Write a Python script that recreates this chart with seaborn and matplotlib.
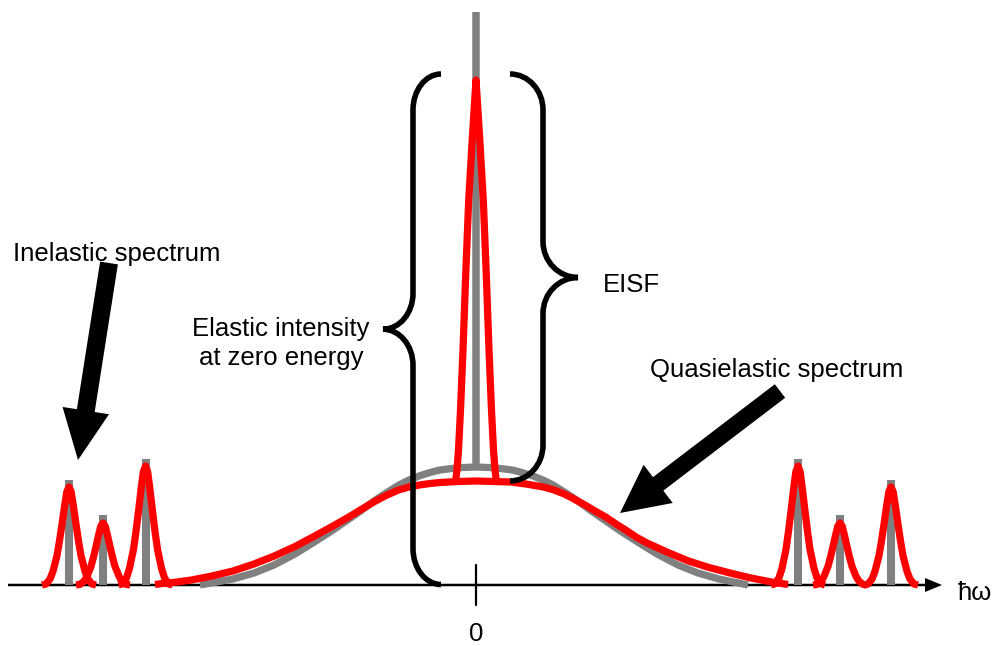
import numpy as np
import matplotlib
matplotlib.use('Agg')
import matplotlib.pyplot as plt
from matplotlib.path import Path
from matplotlib.patches import PathPatch
import seaborn as sns

sns.set_theme(style="white")
plt.rcParams['font.family'] = ['Liberation Sans', 'DejaVu Sans']
plt.rcParams['text.color'] = 'black'

# --- données lues sur le schéma (énergie en unités arbitraires, 0 = pic élastique) ---
# raies inélastiques (bâtons gris) et leur version élargie (rouge)
inel_pos = [-407, -373, -330.5, 322, 364, 415]
inel_stick_h = [105, 70, 126, 126, 70, 105]
inel_red_h = [98, 62, 119, 119, 62, 98]
# profil normalisé d'une raie élargie
peak_dx = [-27, -23, -19, -16, -12, -9.5, -7, -4.5, -2.2, 0, 2.2, 4.5, 7, 9.5, 12, 16, 19, 23, 27]
peak_f = [0, 0.01, 0.06, 0.14, 0.3, 0.45, 0.62, 0.8, 0.95, 1,
          0.95, 0.8, 0.62, 0.45, 0.3, 0.14, 0.06, 0.01, 0]

# pic élastique (bâton gris central)
elastic_top = 573

# spectre quasiélastique idéal (gris)
gray_dx = [-276, -262, -243, -222, -202, -181, -160, -143, -127, -114, -102, -90, -77, -67, -57,
           -46, -36, -18, 0, 18, 36, 46, 57, 67, 77, 90, 102, 114, 127, 143, 160, 181, 202,
           222, 243, 260, 272]
gray_h = [0, 2.5, 6, 12, 20, 31, 44, 55, 66, 75, 84, 92, 100, 105, 109,
          112.5, 115, 117.3, 118, 117.3, 115, 112.5, 109, 105, 100, 92, 84, 75, 66, 55, 44, 31, 20,
          12, 6, 2.5, 0]

# spectre quasiélastique mesuré (rouge)
red_dx = [-321, -313.6, -299, -284.6, -264, -243, -222, -201.7, -181, -160.3, -143, -127.2,
          -114, -102.3, -90, -77.5, -67, -56.7, -46, -36, -18, 0,
          18, 34.4, 50, 67.5, 78, 88.3, 98, 109, 119, 129.7, 140, 150.4, 160, 171, 192, 212.5,
          233, 254, 275, 295.4, 312]
red_h = [0.5, 1.5, 3, 5, 9, 14, 21, 29, 38.5, 49.5, 59, 68,
         76, 83, 89.5, 95, 98, 100, 101.5, 102.5, 103.5, 104,
         103.5, 103, 101, 98, 95, 91, 86, 80, 74, 68, 61, 54.5, 48, 42, 32.5, 24,
         17.5, 12, 7, 3, 0.5]

# pic élastique résolu (rouge, étroit)
narrow_dx = [-20.5, -19, -17.5, -15.5, -13, -10.3, -7.3, -3.5, 0,
             3.5, 7.3, 10.3, 13, 15.5, 17.5, 19, 20.5]
narrow_h = [103, 115, 135, 175, 235, 310, 385, 450, 505,
            450, 385, 310, 235, 175, 135, 115, 103]

# accolades : intensité élastique totale et EISF
elastic_zero_h = 511
quasi_peak_h = 104

RED = '#FF0000'
GRAY = '#808080'
LW = 5.2


def draw_brace(ax, x_line, x_end, x_tip, h_low, h_high, ry_end=36, ry_tip=36, lw=4.0):
    k = 0.5523
    mid = (h_low + h_high) / 2
    rx_end = x_end - x_line
    rx_tip = x_tip - x_line
    verts = [
        (x_end, h_high),
        (x_end - k * rx_end, h_high), (x_line, h_high - ry_end + k * ry_end), (x_line, h_high - ry_end),
        (x_line, mid + ry_tip),
        (x_line, mid + ry_tip - k * ry_tip), (x_tip - k * rx_tip, mid), (x_tip, mid),
        (x_tip - k * rx_tip, mid), (x_line, mid - ry_tip + k * ry_tip), (x_line, mid - ry_tip),
        (x_line, h_low + ry_end),
        (x_line, h_low + ry_end - k * ry_end), (x_end - k * rx_end, h_low), (x_end, h_low),
    ]
    codes = [Path.MOVETO,
             Path.CURVE4, Path.CURVE4, Path.CURVE4,
             Path.LINETO,
             Path.CURVE4, Path.CURVE4, Path.CURVE4,
             Path.CURVE4, Path.CURVE4, Path.CURVE4,
             Path.LINETO,
             Path.CURVE4, Path.CURVE4, Path.CURVE4]
    patch = PathPatch(Path(verts, codes), facecolor='none', edgecolor='black',
                      lw=lw, capstyle='butt', zorder=5)
    ax.add_patch(patch)


fig = plt.figure(figsize=(9.96, 6.46), dpi=100)
ax = fig.add_axes([0, 0, 1, 1])
ax.set_xlim(-476, 520)
ax.set_ylim(-61, 585)
ax.set_axis_off()

# axe des énergies
ax.arrow(-468, 0, 934, 0, width=2.5, head_width=14, head_length=17,
         length_includes_head=True, color='black', lw=0, zorder=1)
ax.plot([0, 0], [20, -20], color='black', lw=1.6, zorder=1)

# bâtons gris
ax.vlines(inel_pos, 0, inel_stick_h, color=GRAY, lw=5.8, zorder=2)
ax.vlines([0], gray_h[gray_dx.index(0)], elastic_top, color=GRAY, lw=5.4, zorder=2)
sns.lineplot(x=gray_dx, y=gray_h, sort=False, estimator=None, color=GRAY,
             lw=LW, solid_capstyle='butt', solid_joinstyle='round', ax=ax, zorder=2)

# courbes rouges
for c, a in zip(inel_pos, inel_red_h):
    xs = [c + d for d in peak_dx]
    ys = [a * f for f in peak_f]
    sns.lineplot(x=xs, y=ys, sort=False, estimator=None, color=RED, lw=LW,
                 solid_capstyle='butt', solid_joinstyle='round', ax=ax, zorder=3)
sns.lineplot(x=red_dx, y=red_h, sort=False, estimator=None, color=RED, lw=LW,
             solid_capstyle='butt', solid_joinstyle='round', ax=ax, zorder=3)
sns.lineplot(x=narrow_dx, y=narrow_h, sort=False, estimator=None, color=RED, lw=LW,
             solid_capstyle='butt', solid_joinstyle='round', ax=ax, zorder=3)

# accolades
draw_brace(ax, -63, -35, -93, 0.5, elastic_zero_h)
draw_brace(ax, 67, 34, 102, quasi_peak_h, elastic_zero_h)

# flèches
ax.arrow(-367, 322, -31, -197, width=18, head_width=47, head_length=50,
         length_includes_head=True, color='black', lw=0, zorder=5)
ax.arrow(304, 194, -160, -122, width=17, head_width=48, head_length=48,
         length_includes_head=True, color='black', lw=0, zorder=5)

# textes
fs = 18.5
ax.text(-359.5, 324, 'Inelastic spectrum', fontsize=fs, ha='center', va='baseline', color='black')
ax.text(300.7, 207.7, 'Quasielastic spectrum', fontsize=fs, ha='center', va='baseline', color='black')
ax.text(-195, 249, 'Elastic intensity', fontsize=fs, ha='center', va='baseline', color='black')
ax.text(-195, 220, 'at zero energy', fontsize=fs, ha='center', va='baseline', color='black')
ax.text(127, 293.3, 'EISF', fontsize=fs, ha='left', va='baseline', color='black')
ax.text(0, -56, '0', fontsize=fs, ha='center', va='baseline', color='black')
ax.text(482, -15, 'ħω', fontsize=fs, ha='left', va='baseline', color='black')

fig.savefig('out.png', dpi=100)
